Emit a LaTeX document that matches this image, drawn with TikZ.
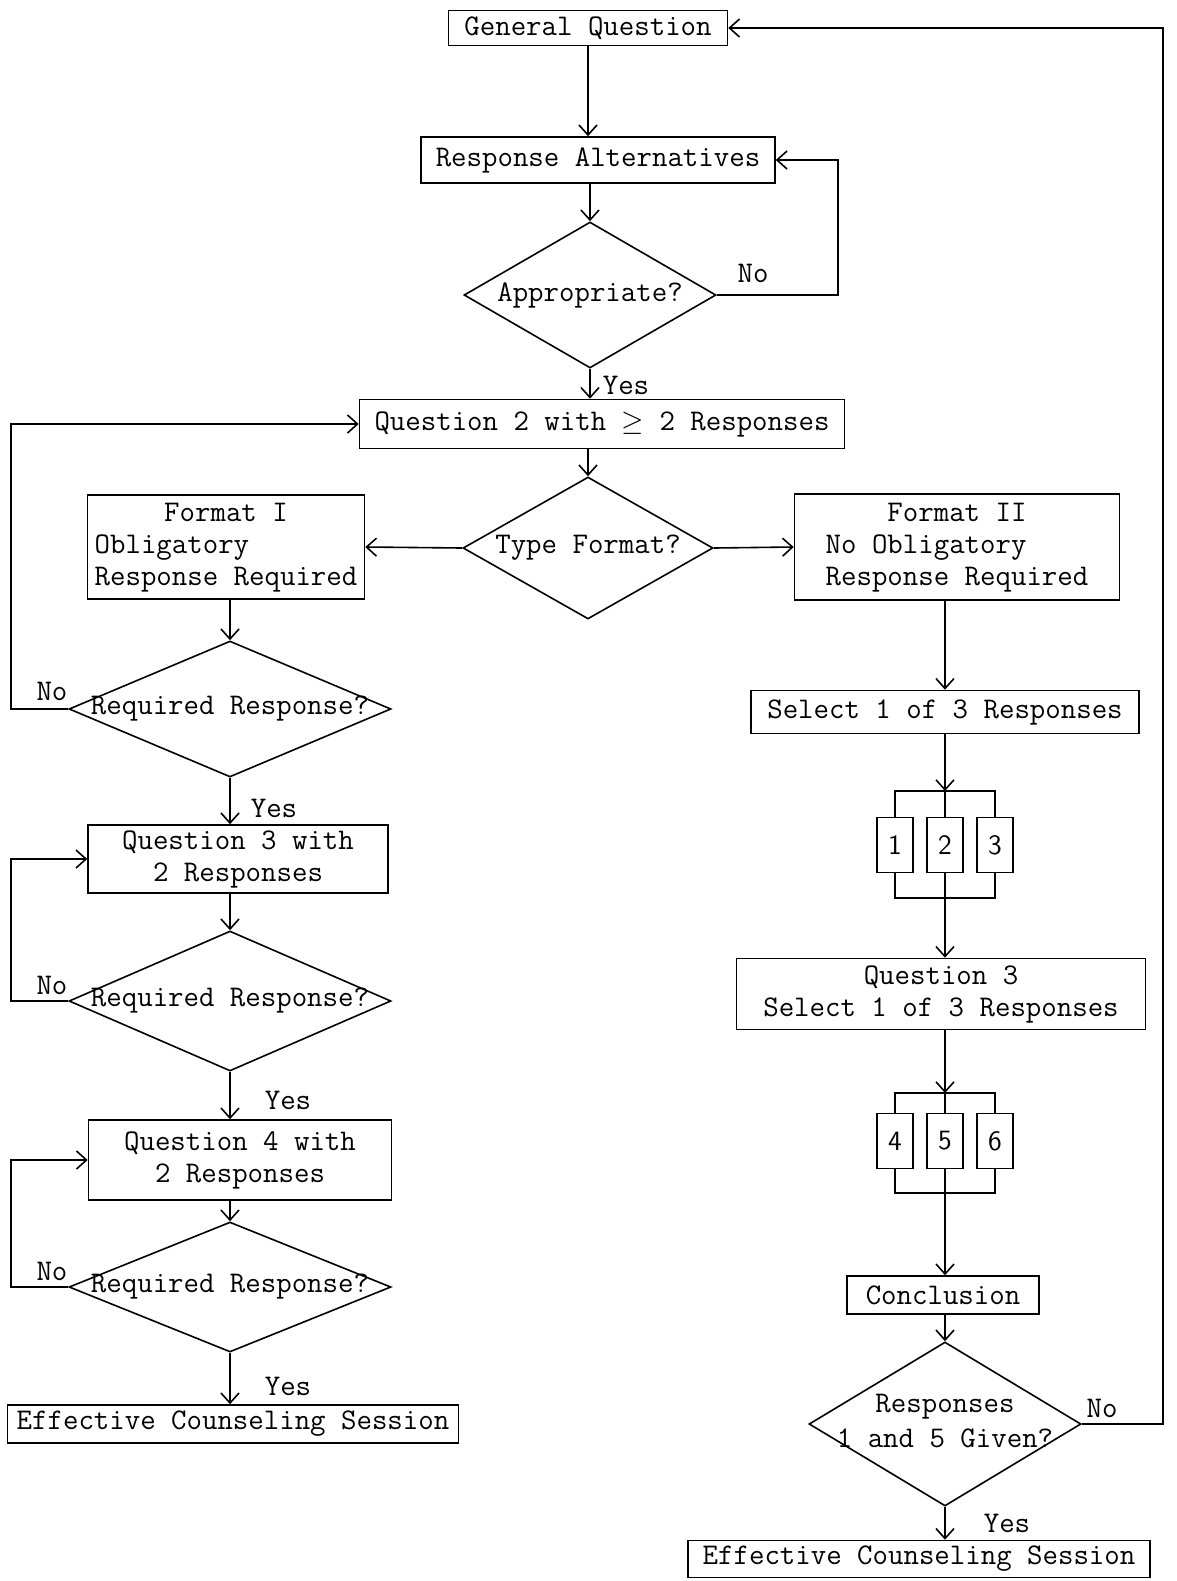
\documentclass[tikz,border=0pt]{standalone}
\usepackage{fontspec}
\usetikzlibrary{shapes.geometric,arrows.meta,positioning}
\begin{document}
\begin{tikzpicture}[x=0.5pt,y=-0.5pt,line width=0.8pt,>={Straight Barb[length=5pt,width=9pt]},
  every node/.style={font=\fontsize{15}{16}\selectfont\ttfamily},
  box/.style={draw,inner sep=2pt},
  dec/.style={draw,diamond,inner sep=0pt},
  opt/.style={draw,minimum width=18pt,minimum height=27.5pt,inner sep=0pt,font=\fontsize{14}{16}\selectfont\sffamily},
  lbl/.style={inner sep=0pt}]
\useasboundingbox (0,0) rectangle (1177,1581);
% main column
\node[box,minimum width=139.5pt,minimum height=17.5pt] (gq) at (588,28) {General Question};
\node[box,minimum width=177pt,minimum height=23pt] (ra) at (598,160) {Response Alternatives};
\node[dec,minimum width=126pt,minimum height=73pt] (app) at (590,295) {\makebox[0pt]{Appropriate?}};
\node[box,minimum width=242.5pt,minimum height=24.5pt] (q2) at (602,424) {Question 2 with \(\geq\) 2 Responses};
\node[dec,minimum width=125pt,minimum height=71pt] (tf) at (588,548) {\makebox[0pt]{Type Format?}};
% format I
\node[box,minimum width=138.5pt,minimum height=50.5pt] (fmt1) at (226,547) {\begin{tabular}{@{}l@{}}\multicolumn{1}{@{}c@{}}{Format I}\\Obligatory\\Response Required\end{tabular}};
\node[dec,minimum width=161pt,minimum height=68pt] (rr1) at (230,709) {\makebox[0pt]{Required Response?}};
\node[box,minimum width=150pt,minimum height=34pt,align=center] (q3) at (238,859) {Question 3 with\\2 Responses};
\node[dec,minimum width=161pt,minimum height=70pt] (rr2) at (230,1001) {\makebox[0pt]{Required Response?}};
\node[box,minimum width=151.5pt,minimum height=40pt,align=center] (q4) at (240,1160) {Question 4 with\\2 Responses};
\node[dec,minimum width=161pt,minimum height=65pt] (rr3) at (230,1287) {\makebox[0pt]{Required Response?}};
\node[box,minimum width=225.5pt,minimum height=19pt] (eff1) at (233,1424) {Effective Counseling Session};
% format II
\node[box,minimum width=162.5pt,minimum height=53pt] (fmt2) at (957,547) {\begin{tabular}{@{}l@{}}\multicolumn{1}{@{}c@{}}{Format II}\\No Obligatory\\Response Required\end{tabular}};
\node[box,minimum width=194pt,minimum height=21.5pt] (sel) at (945,712) {Select 1 of 3 Responses};
\coordinate (top1) at (945,791);
\node[opt] (b1) at (895,845) {1};
\node[opt] (b2) at (945,845) {2};
\node[opt] (b3) at (995,845) {3};
\coordinate (bot1) at (945,898);
\node[box,minimum width=204.5pt,minimum height=35.5pt,align=center] (q3r) at (941,994) {Question 3\\Select 1 of 3 Responses};
\coordinate (top2) at (945,1093);
\node[opt] (b4) at (895,1141) {4};
\node[opt] (b5) at (945,1141) {5};
\node[opt] (b6) at (995,1141) {6};
\coordinate (bot2) at (945,1193);
\node[box,minimum width=96pt,minimum height=19pt] (concl) at (943,1295) {Conclusion};
\node[dec,minimum width=136pt,minimum height=82pt] (resp) at (945,1424) {\makebox[0pt]{\raisebox{6pt}{\begin{tabular}{@{}c@{}}Responses\\[1.5pt]1 and 5 Given?\end{tabular}}}};
\node[box,minimum width=231pt,minimum height=18.5pt] (eff2) at (919,1559) {Effective Counseling Session};
% connectors
\draw[->] (gq.south) -- (gq.south |- ra.north);
\draw[->] (ra.south -| app.north) -- (app.north);
\draw[->] (app.east) node[lbl,above right=6pt and 10pt] (no1) {No} -- ++(121,0) |- (ra.east);
\draw[->] (app.south) -- (app.south |- q2.north) node[lbl,pos=0.55,right=6pt] (yes1) {Yes};
\draw[->] (q2.south -| tf.north) -- (tf.north);
\draw[->] (tf.west) -- (fmt1.east);
\draw[->] (tf.east) -- (fmt2.west);
\draw[->] (rr1.north |- fmt1.south) -- (rr1.north);
\draw[->] (rr1.west) node[lbl,above left=4pt and 0pt] (no2) {No} -- ++(-57,0) |- (q2.west);
\draw[->] (rr1.south) -- (rr1.south |- q3.north) node[lbl,pos=0.65,right=10pt] (yes2) {Yes};
\draw[->] (rr2.north |- q3.south) -- (rr2.north);
\draw[->] (rr2.west) node[lbl,above left=3pt and 0pt] (no3) {No} -- ++(-57,0) |- (q3.west);
\draw[->] (rr2.south) -- (rr2.south |- q4.north) node[lbl,pos=0.6,right=17pt] (yes3) {Yes};
\draw[->] (rr3.north |- q4.south) -- (rr3.north);
\draw[->] (rr3.west) node[lbl,above left=3pt and 0pt] (no4) {No} -- ++(-57,0) |- (q4.west);
\draw[->] (rr3.south) -- (rr3.south |- eff1.north) node[lbl,pos=0.65,right=17pt] (yes4) {Yes};
\draw[->] (sel.north |- fmt2.south) -- (sel.north);
\draw[->] (sel.south) -- (top1);
\draw (b1.north) |- (top1) -| (b3.north);
\draw (b2.north) -- (top1);
\draw (b1.south) |- (bot1) -| (b3.south);
\draw (b2.south) -- (bot1);
\draw[->] (bot1) -- (bot1 |- q3r.north);
\draw[->] (q3r.south -| top2) -- (top2);
\draw (b4.north) |- (top2) -| (b6.north);
\draw (b5.north) -- (top2);
\draw (b4.south) |- (bot2) -| (b6.south);
\draw (b5.south) -- (bot2);
\draw[->] (bot2) -- (bot2 |- concl.north);
\draw[->] (concl.south -| resp.north) -- (resp.north);
\draw[->] (resp.east) node[lbl,above right=3pt and 2pt] (no5) {No} -- ++(81,0) |- (gq.east);
\draw[->] (resp.south) -- (resp.south |- eff2.north) node[lbl,pos=0.5,right=19pt] (yes5) {Yes};
\end{tikzpicture}
\end{document}
